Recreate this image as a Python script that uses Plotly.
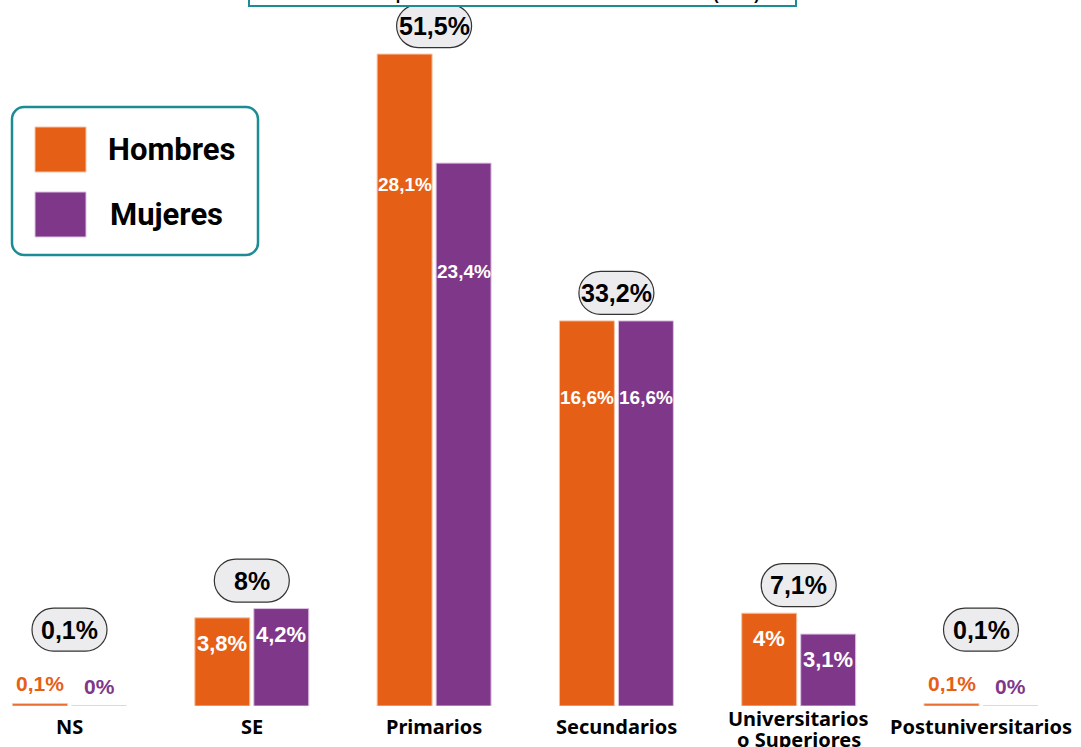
import plotly.graph_objects as go

categories = ["NS", "SE", "Primarios", "Secundarios", "Universitarios<br>o Superiores", "Postuniversitarios"]
hombres = [0.1, 3.8, 28.1, 16.6, 4.0, 0.1]
mujeres = [0.0, 4.2, 23.4, 16.6, 3.1, 0.0]
totales = [0.1, 8.0, 51.5, 33.2, 7.1, 0.1]
series_names = ["Hombres", "Mujeres"]
title_text = "Padrón Municipal - AYUNTAMIENTO DE LA LOCALIDAD (2023)"

ORANGE = "#E65F16"
PURPLE = "#7F3789"
ORANGE_EDGE = "#F6C2A3"
PURPLE_EDGE = "#DDC3E3"
TEAL = "#1B8C93"
W, H = 1081, 747
MB = 41
PLOT_H = H - MB

def fmt(v):
    s = ("%.1f" % v).rstrip("0").rstrip(".")
    return s.replace(".", ",") + "%"

idx = list(range(len(categories)))

fig = go.Figure()
fig.add_trace(go.Bar(x=idx, y=hombres, name=series_names[0],
                     marker=dict(color=ORANGE, line=dict(color=ORANGE_EDGE, width=1))))
fig.add_trace(go.Bar(x=idx, y=mujeres, name=series_names[1],
                     marker=dict(color=PURPLE, line=dict(color=PURPLE_EDGE, width=1))))

annotations = []
shapes = []
LABEL_FONT = "Liberation Sans, Arial, sans-serif"
for i in idx:
    tiny = max(hombres[i], mujeres[i]) < 0.5
    for vals, shift, col in ((hombres, -29.5, ORANGE), (mujeres, 29.5, PURPLE)):
        v = vals[i]
        txt = fmt(v)
        if tiny:
            annotations.append(dict(x=i, y=v, xref="x", yref="y", text="<b>%s</b>" % txt,
                                    showarrow=False, xshift=shift, yshift=20, yanchor="middle",
                                    font=dict(family=LABEL_FONT, size=21, color=col)))
        else:
            ly = v - max(1.1, 0.2 * v)
            fs = 22 if len(txt) <= 4 else 19
            annotations.append(dict(x=i, y=ly, xref="x", yref="y", text="<b>%s</b>" % txt,
                                    showarrow=False, xshift=shift, yanchor="middle",
                                    font=dict(family=LABEL_FONT, size=fs, color="white")))
    top = max(hombres[i], mujeres[i])
    c = 74 if tiny else 28
    bw, bh = 75, 43
    r = bh / 2
    k = 0.5523 * r
    x0, x1 = -bw / 2, bw / 2
    y0, y1 = c - bh / 2, c + bh / 2
    path = (f"M {x0 + r},{y0} L {x1 - r},{y0} "
            f"C {x1 - r + k},{y0} {x1},{c - k} {x1},{c} "
            f"C {x1},{c + k} {x1 - r + k},{y1} {x1 - r},{y1} "
            f"L {x0 + r},{y1} "
            f"C {x0 + r - k},{y1} {x0},{c + k} {x0},{c} "
            f"C {x0},{c - k} {x0 + r - k},{y0} {x0 + r},{y0} Z")
    shapes.append(dict(type="path", xref="x", yref="y", xsizemode="pixel", ysizemode="pixel",
                       xanchor=i, yanchor=top, path=path,
                       fillcolor="#ECECEE", line=dict(color="#333333", width=1.2)))
    annotations.append(dict(x=i, y=top, xref="x", yref="y", text="<b>%s</b>" % fmt(totales[i]),
                            showarrow=False, yshift=c, yanchor="middle",
                            font=dict(family=LABEL_FONT, size=25, color="black")))

    # category label (one text per line, tighter line spacing than tick labels allow)
    lines = categories[i].split("<br>")
    n = len(lines)
    for j, line in enumerate(lines):
        centre = 20 + (n - 1) * 2.5 + (j - (n - 1) / 2) * 21
        annotations.append(dict(x=i, y=0, xref="x", yref="paper", text="<b>%s</b>" % line,
                                showarrow=False, yanchor="middle", yshift=-centre,
                                font=dict(family="Noto Sans, sans-serif", size=20, color="black")))

# custom legend box
lx0, lx1, ly0, ly1, lr = 12, 258, 107, 255, 12
lk = 0.5523 * lr
lpath = (f"M {lx0 + lr},{-ly0} L {lx1 - lr},{-ly0} "
         f"C {lx1 - lr + lk},{-ly0} {lx1},{-ly0 - lr + lk} {lx1},{-ly0 - lr} "
         f"L {lx1},{-ly1 + lr} "
         f"C {lx1},{-ly1 + lr - lk} {lx1 - lr + lk},{-ly1} {lx1 - lr},{-ly1} "
         f"L {lx0 + lr},{-ly1} "
         f"C {lx0 + lr - lk},{-ly1} {lx0},{-ly1 + lr - lk} {lx0},{-ly1 + lr} "
         f"L {lx0},{-ly0 - lr} "
         f"C {lx0},{-ly0 - lr + lk} {lx0 + lr - lk},{-ly0} {lx0 + lr},{-ly0} Z")
shapes.append(dict(type="path", xref="paper", yref="paper", xsizemode="pixel", ysizemode="pixel",
                   xanchor=0, yanchor=1, path=lpath, fillcolor="white",
                   line=dict(color=TEAL, width=2.5)))
for (sy0, sy1, col, edge, name, tx) in ((127, 172, ORANGE, ORANGE_EDGE, series_names[0], 171),
                                        (192, 237, PURPLE, PURPLE_EDGE, series_names[1], 166)):
    shapes.append(dict(type="rect", xref="paper", yref="paper", xsizemode="pixel", ysizemode="pixel",
                       xanchor=0, yanchor=1, x0=35, x1=86, y0=-sy0, y1=-sy1,
                       fillcolor=col, line=dict(color=edge, width=1)))
    annotations.append(dict(x=tx / W, y=1 - ((sy0 + sy1) / 2) / PLOT_H, xref="paper", yref="paper",
                            text="<b>%s</b>" % name, showarrow=False, xanchor="center", yanchor="middle",
                            font=dict(family="Roboto, Liberation Sans, sans-serif", size=31, color="black")))

# title box (mostly above the visible area, as in the reference)
annotations.append(dict(x=522 / W, y=1, xref="paper", yref="paper", text="<b>%s</b>" % title_text,
                        showarrow=False, yanchor="bottom", yshift=-7, width=541,
                        bordercolor=TEAL, borderwidth=2, bgcolor="white", borderpad=2,
                        font=dict(family=LABEL_FONT, size=16, color="black")))

unit = 182.3
xl = -69.5 / unit
xr = xl + W / unit
fig.update_layout(
    width=W, height=H,
    margin=dict(l=0, r=0, t=0, b=MB, pad=0),
    paper_bgcolor="white", plot_bgcolor="white",
    barmode="group", bargap=0.353, bargroupgap=0.068,
    showlegend=False,
    xaxis=dict(range=[xl, xr], tickmode="array", tickvals=idx, showticklabels=False,
               showgrid=False, zeroline=False, showline=False, ticks="", automargin=False),
    yaxis=dict(range=[0, PLOT_H / 23.2], visible=False, showgrid=False, zeroline=False, automargin=False),
    shapes=shapes, annotations=annotations,
)
fig.write_html("out.html")
